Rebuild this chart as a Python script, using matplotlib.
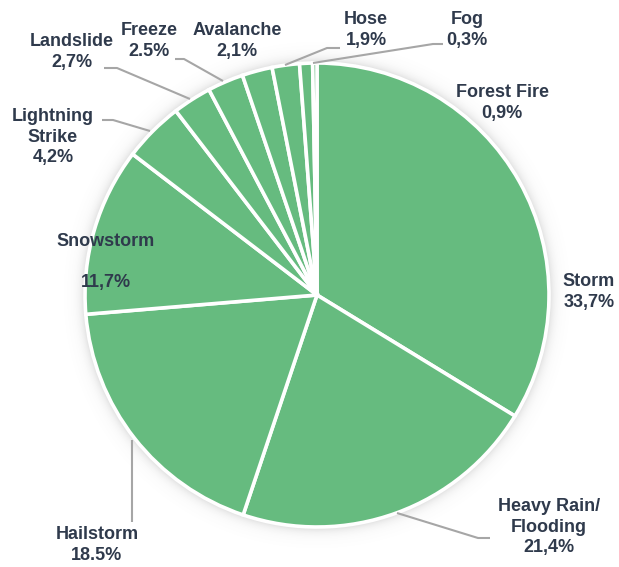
import numpy as np
import matplotlib
matplotlib.use("Agg")
import matplotlib.pyplot as plt

# Share of incidents by cause (clockwise from 12 o'clock)
categories = ["Storm", "Heavy Rain/\nFlooding", "Hailstorm", "Snowstorm",
              "Lightning\nStrike", "Landslide", "Freeze", "Avalanche",
              "Hose", "Forest Fire", "Fog"]
shares = [33.7, 21.4, 18.5, 11.7, 4.2, 2.7, 2.5, 2.1, 1.9, 0.9, 0.3]
pct_labels = ["33,7%", "21,4%", "18.5%", "11,7%", "4,2%", "2,7%", "2.5%",
              "2,1%", "1,9%", "0,9%", "0,3%"]

W, H = 619, 567
GREEN = "#66BB7F"
TEXT = "#2F3A4C"
LEADER = "#A6A6A6"

fig = plt.figure(figsize=(W / 100, H / 100), dpi=100)
ax = fig.add_axes([0, 0, 1, 1])
ax.set_xlim(0, W)
ax.set_ylim(0, H)
ax.set_aspect("equal")
ax.axis("off")

cx, cy, R = 317, H - 295, 232

# soft glow behind the pie
xs = np.arange(0, W) + 0.5
ys = np.arange(0, H) + 0.5
gx, gy = np.meshgrid(xs, ys)
d = np.hypot(gx - cx, gy - cy)
glow = np.clip(np.exp(-(d - R) / 5.0), 0, 1) * 0.28
glow[d < R - 2] = 0
rgba = np.zeros((H, W, 4))
rgba[..., :3] = 0.45
rgba[..., 3] = glow
ax.imshow(rgba, extent=(0, W, 0, H), origin="lower", zorder=0, interpolation="bilinear")

ax.pie(shares, startangle=90, counterclock=False, radius=R, center=(cx, cy),
       colors=[GREEN] * len(shares), frame=True,
       wedgeprops=dict(edgecolor="white", linewidth=2.6))
ax.set_xlim(0, W)
ax.set_ylim(0, H)
ax.axis("off")

font = dict(family="Liberation Sans", fontsize=13, fontweight="bold",
            color=TEXT, ha="center", va="center", linespacing=1.25)

label_pos = {
    "Storm": (589, 292),
    "Heavy Rain/\nFlooding": (549, 527),
    "Hailstorm": (97, 545),
    "Snowstorm": (106, 262),
    "Lightning\nStrike": (53, 137),
    "Landslide": (72, 52),
    "Freeze": (149, 41),
    "Avalanche": (237, 41),
    "Hose": (366, 30),
    "Forest Fire": (502, 103),
    "Fog": (467, 30),
}

for cat, pct in zip(categories, pct_labels):
    x, y = label_pos[cat]
    sep = "\n\n" if cat == "Snowstorm" else "\n"
    ax.text(x, H - y, f"{cat}{sep}{pct}", **font, zorder=5)

leaders = [
    [(397, 513), (478, 538), (490, 538)],
    [(132, 440), (132, 522)],
    [(150, 131), (113, 120), (102, 120)],
    [(190, 99), (117, 68), (104, 68)],
    [(223, 81), (184, 59), (175, 59)],
    [(285, 65), (327, 48), (340, 48)],
    [(313, 63), (433, 44), (443, 44)],
]
for pts in leaders:
    px = [p[0] for p in pts]
    py = [H - p[1] for p in pts]
    ax.plot(px, py, color=LEADER, linewidth=1.5, zorder=4, solid_capstyle="butt")

fig.savefig("out.png", dpi=100)
